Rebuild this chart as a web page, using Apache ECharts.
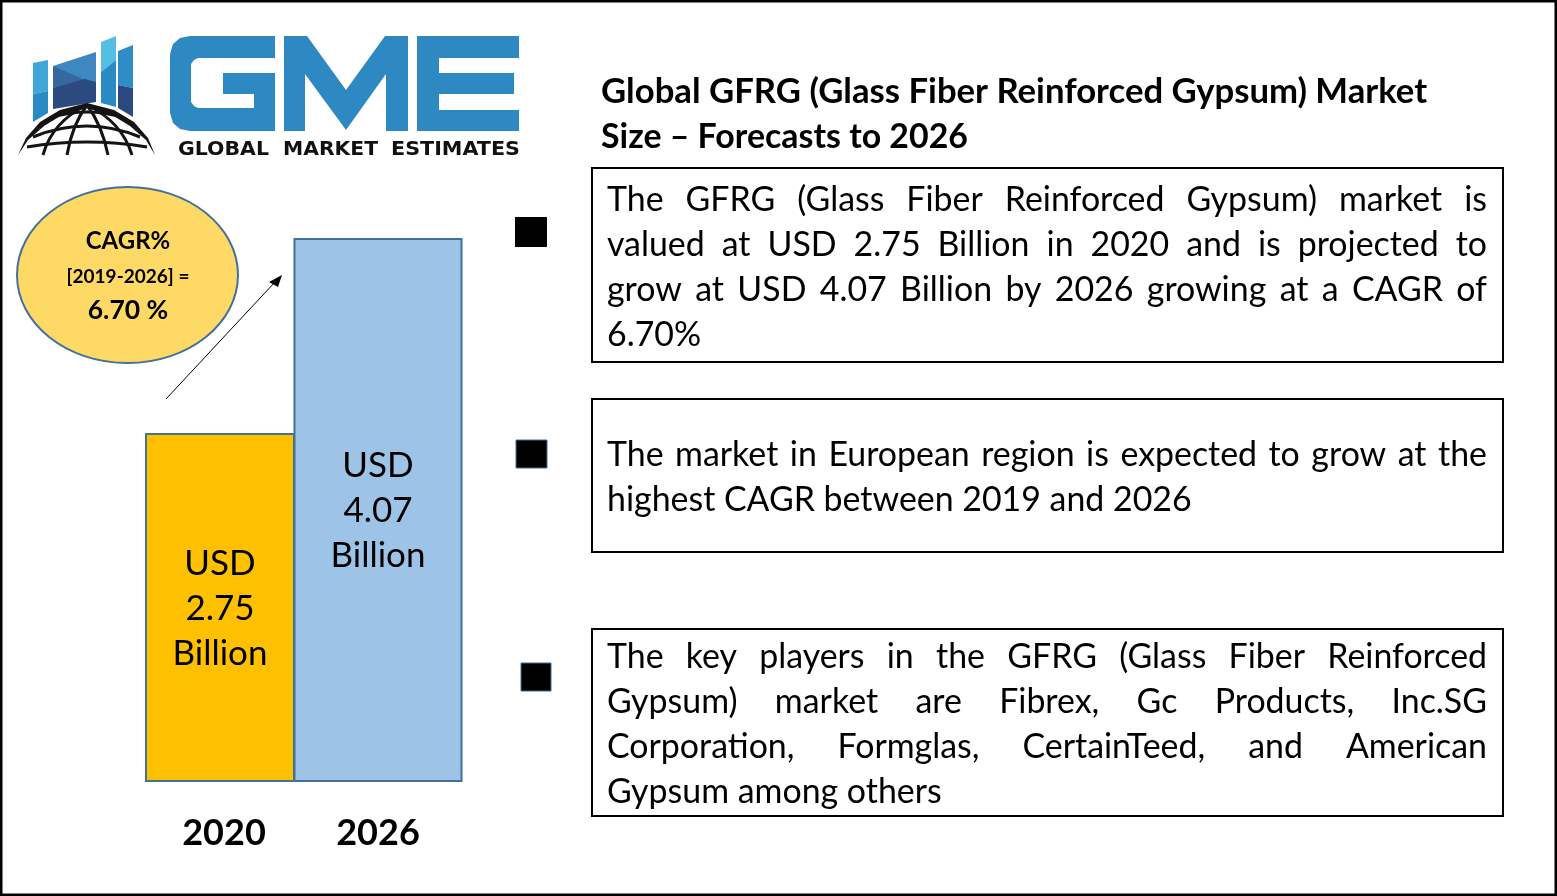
<!DOCTYPE html>
<html>
<head>
<meta charset="utf-8">
<style>html,body{margin:0;padding:0;background:#fff}#chart{width:1557px;height:896px}</style>
<script src="https://cdn.jsdelivr.net/npm/echarts@6/dist/echarts.min.js"></script>
</head>
<body>
<div id="chart"></div>
<script>
// data
const years = ['2020', '2026'];
const marketValues = [2.75, 4.07];
const barLabels = ['USD\n2.75\nBillion', 'USD\n4.07\nBillion'];
const titleLines = [
  'Global GFRG (Glass Fiber Reinforced Gypsum) Market',
  'Size \u2013 Forecasts to 2026',
];
const box1Lines = [
  'The GFRG (Glass Fiber Reinforced Gypsum) market is',
  'valued at USD 2.75 Billion in 2020 and is projected to',
  'grow at USD 4.07 Billion by 2026 growing at a CAGR of',
  '6.70%',
];
const box2Lines = [
  'The market in European region is expected to grow at the',
  'highest CAGR between 2019 and 2026',
];
const box3Lines = [
  'The key players in the GFRG (Glass Fiber Reinforced',
  'Gypsum) market are Fibrex, Gc Products, Inc.SG',
  'Corporation, Formglas, CertainTeed, and American',
  'Gypsum among others',
];

const FONT = 'Lato, sans-serif';
const BODY_FONT = '33.9px ' + FONT;
const TITLE_FONT = 'bold 34.7px ' + FONT;
const LOGO_FONT = 'bold 19px "DejaVu Sans"';
const LOGO_BLUE = '#2E89C3';

// bars are not the same width in the original
const barWidths = [148, 167];
const barOffsets = [-4, 0];
const barColors = ['#FFC000', '#9DC3E6'];

const measure = document.createElement('canvas').getContext('2d');

function textAt(text, x, y, font, align) {
  return {
    type: 'text',
    style: { text, x, y, font, fill: '#000', align: align || 'left', verticalAlign: 'middle' },
  };
}

// lays a line out word by word so both edges sit on left/right
function justifiedLine(line, left, right, y, font) {
  const words = line.split(' ');
  measure.font = font;
  const used = words.reduce((s, w) => s + measure.measureText(w).width, 0);
  const gap = (right - left - used) / (words.length - 1);
  let x = left;
  return words.map((w) => {
    const el = textAt(w, x, y, font);
    x += measure.measureText(w).width + gap;
    return el;
  });
}

function textBlock(lines, firstY, justifyCount) {
  const out = [];
  lines.forEach((line, i) => {
    const y = firstY + i * 45;
    if (i < justifyCount) out.push(...justifiedLine(line, 607, 1487, y, BODY_FONT));
    else out.push(textAt(line, 607, y, BODY_FONT));
  });
  return out;
}

function box(x, y, w, h) {
  return { type: 'rect', shape: { x, y, width: w, height: h }, style: { fill: '#fff', stroke: '#000', lineWidth: 2 } };
}

function poly(points, fill) {
  return { type: 'polygon', shape: { points }, style: { fill } };
}

function curve(x1, y1, cx, cy, x2, y2, w) {
  return {
    type: 'bezierCurve',
    shape: { x1, y1, cpx1: cx, cpy1: cy, x2, y2 },
    style: { fill: 'none', stroke: '#141414', lineWidth: w },
  };
}

function logoText(word, left, right) {
  measure.font = LOGO_FONT;
  const natural = measure.measureText(word).width;
  return {
    type: 'text',
    x: left, y: 150, scaleX: (right - left) / natural,
    style: { text: word, x: 0, y: 0, font: LOGO_FONT, fill: '#111', align: 'left', verticalAlign: 'middle' },
  };
}

const logo = [
  // skyline
  poly([[33, 63], [48, 60], [48, 91], [33, 94]], '#3FA6D8'),
  poly([[33, 94], [48, 91], [48, 113], [33, 122]], '#2A8AC4'),
  poly([[53, 66], [96, 52], [96, 82], [53, 88]], '#3F88BF'),
  poly([[53, 66], [85, 80], [53, 88]], '#35689F'),
  poly([[53, 88], [85, 79], [96, 82], [96, 102], [53, 109]], '#2B4A80'),
  poly([[101, 42], [116, 36], [116, 60], [101, 72]], '#55BFE3'),
  poly([[101, 72], [116, 60], [116, 107], [101, 103]], '#2A8AC4'),
  poly([[118, 51], [133, 45], [133, 88], [118, 85]], '#2F8CC6'),
  poly([[118, 85], [133, 88], [133, 117], [118, 108]], '#2B4A80'),
  // globe
  poly([[18, 155], [26, 138], [40, 122], [60, 110], [87, 103], [114, 110], [134, 122], [148, 138], [155, 155], [146, 140], [130, 126], [112, 115], [87, 108], [62, 115], [44, 126], [28, 140]], '#141414'),
  curve(50, 118, 87, 106, 124, 118, 3),
  curve(33, 137, 87, 115, 140, 137, 3),
  curve(27, 147, 87, 137, 147, 147, 3),
  curve(87, 105, 52, 122, 43, 155, 3),
  curve(87, 105, 72, 125, 67, 155, 3),
  curve(87, 105, 102, 125, 108, 155, 3),
  curve(87, 105, 122, 122, 132, 155, 3),
  // GME letters
  poly([[275, 36], [190, 36], [180, 38], [173, 44], [170, 54], [170, 113], [173, 123], [180, 129], [190, 131], [275, 131], [275, 73], [223, 73], [223, 94], [254, 94], [254, 108], [198, 108], [194, 106], [191, 102], [191, 64], [194, 60], [198, 58], [275, 58]], LOGO_BLUE),
  poly([[284, 36], [307, 36], [346, 90], [385, 36], [408, 36], [408, 131], [386, 131], [386, 74], [346, 130], [305, 74], [305, 131], [284, 131]], LOGO_BLUE),
  poly([[417, 36], [519, 36], [519, 58], [439, 58], [439, 73], [514, 73], [514, 94], [439, 94], [439, 110], [519, 110], [519, 131], [417, 131]], LOGO_BLUE),
  logoText('GLOBAL', 178, 269),
  logoText('MARKET', 283, 378),
  logoText('ESTIMATES', 391, 520),
];

const cagrBadge = [
  { type: 'ellipse', shape: { cx: 127.5, cy: 275, rx: 110.5, ry: 88 }, style: { fill: '#FFD966', stroke: '#41719C', lineWidth: 2 } },
  textAt('CAGR%', 128, 241, 'bold 24px ' + FONT, 'center'),
  textAt('[2019-2026] =', 128, 277, 'bold 19px ' + FONT, 'center'),
  textAt('6.70 %', 128, 310, 'bold 26.5px ' + FONT, 'center'),
  { type: 'line', shape: { x1: 166, y1: 399, x2: 275, y2: 282 }, style: { stroke: '#000', lineWidth: 1 } },
  poly([[282, 275], [269, 282], [278, 287]], '#000'),
];

const bullets = [
  { type: 'rect', shape: { x: 515, y: 217, width: 32, height: 30 }, style: { fill: '#000' } },
  { type: 'rect', shape: { x: 516, y: 440, width: 31, height: 28 }, style: { fill: '#000', stroke: '#41719C', lineWidth: 1 } },
  { type: 'rect', shape: { x: 521, y: 663, width: 30, height: 28 }, style: { fill: '#000', stroke: '#41719C', lineWidth: 1 } },
];

const chart = echarts.init(document.getElementById('chart'));

chart.setOption({
  animation: false,
  backgroundColor: '#fff',
  grid: { left: 147, width: 308, top: 239, bottom: 115 },
  xAxis: {
    type: 'category',
    data: years,
    axisLine: { show: false },
    axisTick: { show: false },
    axisLabel: { fontFamily: FONT, fontWeight: 'bold', fontSize: 36, color: '#000', margin: 34 },
  },
  // the original bars are not drawn from zero, min keeps their proportions
  yAxis: { type: 'value', min: 0.4, max: 4.07, show: false },
  series: [{
    type: 'custom',
    data: marketValues.map((v, i) => [i, v]),
    encode: { x: 0, y: 1 },
    renderItem(params, api) {
      const i = api.value(0);
      const top = api.coord([i, api.value(1)]);
      const base = api.coord([i, 0.4]);
      const w = barWidths[i];
      const x = top[0] - w / 2 + barOffsets[i];
      return {
        type: 'group',
        children: [
          {
            type: 'rect',
            shape: { x, y: top[1], width: w, height: base[1] - top[1] },
            style: { fill: barColors[i], stroke: '#41719C', lineWidth: 2 },
          },
          {
            type: 'text',
            style: {
              text: barLabels[i],
              x: x + w / 2,
              y: (top[1] + base[1]) / 2 + 1,
              font: '35px ' + FONT,
              lineHeight: 45,
              fill: '#000',
              align: 'center',
              verticalAlign: 'middle',
            },
          },
        ],
      };
    },
  }],
  graphic: [
    { type: 'rect', shape: { x: 1, y: 1, width: 1555, height: 894 }, style: { fill: 'none', stroke: '#000', lineWidth: 3 } },
    ...logo,
    ...cagrBadge,
    ...bullets,
    textAt(titleLines[0], 601, 92, TITLE_FONT),
    textAt(titleLines[1], 601, 137, 'bold 33.9px ' + FONT),
    box(592, 168, 911, 194),
    box(592, 399, 911, 153),
    box(592, 629, 911, 187),
    ...textBlock(box1Lines, 200, 3),
    ...textBlock(box2Lines, 455, 1),
    ...textBlock(box3Lines, 657, 3),
  ],
});
</script>
</body>
</html>
